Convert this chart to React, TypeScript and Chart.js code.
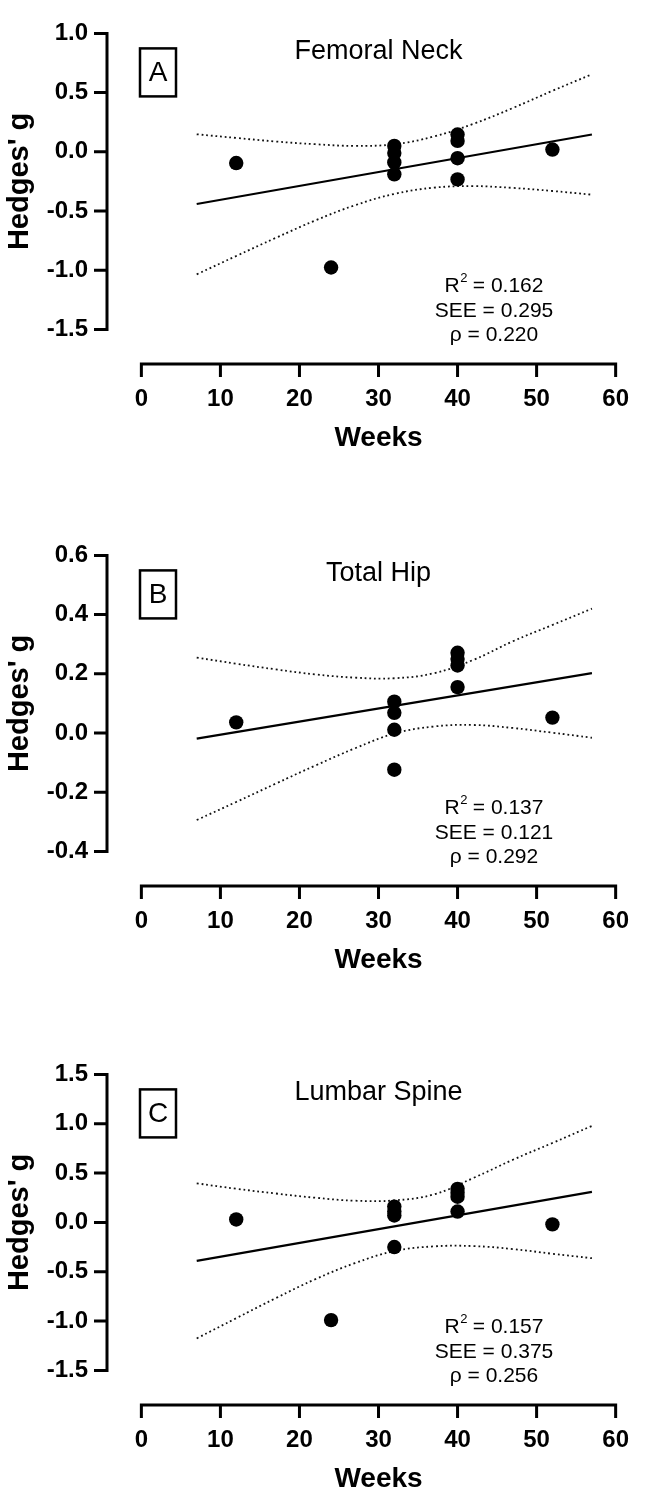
import React, { useEffect, useRef } from "react";
import { Chart, registerables } from "chart.js";

Chart.register(...registerables);

// ---------- data ----------
const weekTicks = [0, 10, 20, 30, 40, 50, 60];
const bandWeeks = [7, 12, 17, 22, 27, 32, 37, 42, 47, 52, 57];
const fitWeeks = [7, 57];

// Panel A – Femoral Neck
const femoralWeeks = [12, 24, 32, 32, 32, 32, 40, 40, 40, 40, 52];
const femoralG = [-0.095, -0.977, 0.05, -0.01, -0.09, -0.19, 0.146, 0.092, -0.054, -0.233, 0.019];
const femoralFit = [-0.441, 0.146];
const femoralUpper = [0.148, 0.117, 0.087, 0.064, 0.05, 0.064, 0.129, 0.236, 0.37, 0.515, 0.655];
const femoralLower = [-1.035, -0.88, -0.727, -0.58, -0.452, -0.356, -0.303, -0.29, -0.305, -0.331, -0.362];
const femoralTicks = [1.0, 0.5, 0.0, -0.5, -1.0, -1.5];
const femoralStats = ["0.162", "0.295", "0.220"];

// Panel B – Total Hip
const hipWeeks = [12, 32, 32, 32, 32, 40, 40, 40, 40, 52];
const hipG = [0.036, 0.106, 0.068, 0.011, -0.124, 0.271, 0.25, 0.228, 0.155, 0.052];
const hipFit = [-0.019, 0.202];
const hipUpper = [0.255, 0.234, 0.215, 0.198, 0.187, 0.185, 0.202, 0.247, 0.31, 0.365, 0.42];
const hipLower = [-0.294, -0.233, -0.171, -0.11, -0.052, -0.002, 0.022, 0.027, 0.017, 0.001, -0.016];
const hipTicks = [0.6, 0.4, 0.2, 0.0, -0.2, -0.4];
const hipStats = ["0.137", "0.121", "0.292"];

// Panel C – Lumbar Spine
const spineWeeks = [12, 24, 32, 32, 32, 32, 40, 40, 40, 40, 52];
const spineG = [0.03, -0.99, 0.16, 0.11, 0.07, -0.25, 0.34, 0.3, 0.26, 0.11, -0.02];
const spineFit = [-0.39, 0.31];
const spineUpper = [0.396, 0.341, 0.293, 0.25, 0.22, 0.223, 0.284, 0.45, 0.635, 0.805, 0.978];
const spineLower = [-1.176, -0.971, -0.768, -0.576, -0.413, -0.291, -0.243, -0.24, -0.27, -0.318, -0.363];
const spineTicks = [1.5, 1.0, 0.5, 0.0, -0.5, -1.0, -1.5];
const spineStats = ["0.157", "0.375", "0.256"];

// ---------- styling ----------
const FONT = "'Liberation Sans', Arial, Helvetica, sans-serif";
const CANVAS_W = 650;
const CANVAS_H = 464;

type Panel = {
  letter: string;
  title: string;
  weeks: number[];
  g: number[];
  fit: number[];
  upper: number[];
  lower: number[];
  yTicks: number[];
  stats: string[];
  top: number;
};

const panels: Panel[] = [
  { letter: "A", title: "Femoral Neck", weeks: femoralWeeks, g: femoralG, fit: femoralFit, upper: femoralUpper, lower: femoralLower, yTicks: femoralTicks, stats: femoralStats, top: 0 },
  { letter: "B", title: "Total Hip", weeks: hipWeeks, g: hipG, fit: hipFit, upper: hipUpper, lower: hipLower, yTicks: hipTicks, stats: hipStats, top: 522 },
  { letter: "C", title: "Lumbar Spine", weeks: spineWeeks, g: spineG, fit: spineFit, upper: spineUpper, lower: spineLower, yTicks: spineTicks, stats: spineStats, top: 1041 },
];

function pairs(xs: number[], ys: number[]) {
  return xs.map((x, i) => ({ x, y: ys[i] }));
}

function makeOverlay(p: Panel) {
  return {
    id: "overlay" + p.letter,
    afterDraw(chart: any) {
      const ctx = chart.ctx as CanvasRenderingContext2D;
      const xs = chart.scales.x;
      const ys = chart.scales.y;
      const area = chart.chartArea;
      const x0 = xs.getPixelForValue(weekTicks[0]);
      const x1 = xs.getPixelForValue(weekTicks[weekTicks.length - 1]);
      const yTop = ys.getPixelForValue(p.yTicks[0]);
      const yBot = ys.getPixelForValue(p.yTicks[p.yTicks.length - 1]);
      const ax = area.left;
      const axY = area.bottom;
      const cx = (x0 + x1) / 2;

      ctx.save();
      // axes
      ctx.strokeStyle = "#000";
      ctx.lineWidth = 3;
      ctx.lineCap = "butt";
      ctx.beginPath();
      ctx.moveTo(ax, yTop - 1.5);
      ctx.lineTo(ax, yBot + 1.5);
      for (const t of p.yTicks) {
        const y = ys.getPixelForValue(t);
        ctx.moveTo(ax + 1.5, y);
        ctx.lineTo(ax - 13, y);
      }
      ctx.moveTo(x0 - 1.5, axY);
      ctx.lineTo(x1 + 1.5, axY);
      for (const t of weekTicks) {
        const x = xs.getPixelForValue(t);
        ctx.moveTo(x, axY - 1.5);
        ctx.lineTo(x, axY + 13);
      }
      ctx.stroke();

      ctx.fillStyle = "#000";
      // panel title
      ctx.font = `27px ${FONT}`;
      ctx.textAlign = "center";
      ctx.textBaseline = "middle";
      ctx.fillText(p.title, cx, area.top + 18);

      // letter box
      const bx = area.left + 33;
      const by = area.top + 15;
      ctx.lineWidth = 2.5;
      ctx.strokeRect(bx, by, 36, 48);
      ctx.font = `28px ${FONT}`;
      ctx.fillText(p.letter, bx + 18, by + 25);

      // stats
      const sx = area.left + 387;
      const rows = [area.top + 253, area.top + 278, area.top + 302];
      ctx.textAlign = "left";
      const big = `21px ${FONT}`;
      const small = `13px ${FONT}`;
      ctx.font = big;
      const wR = ctx.measureText("R").width;
      const rest = " = " + p.stats[0];
      const wRest = ctx.measureText(rest).width;
      ctx.font = small;
      const w2 = ctx.measureText("2").width;
      const start = sx - (wR + w2 + wRest) / 2;
      ctx.font = big;
      ctx.fillText("R", start, rows[0]);
      ctx.font = small;
      ctx.fillText("2", start + wR + 0.5, rows[0] - 8);
      ctx.font = big;
      ctx.fillText(rest, start + wR + w2, rows[0]);
      ctx.textAlign = "center";
      ctx.fillText("SEE = " + p.stats[1], sx, rows[1]);
      ctx.fillText("\u03c1 = " + p.stats[2], sx, rows[2]);

      // axis titles
      ctx.font = `bold 28px ${FONT}`;
      ctx.textAlign = "center";
      ctx.textBaseline = "middle";
      ctx.fillText("Weeks", cx, axY + 74);

      ctx.save();
      ctx.font = `bold 29px ${FONT}`;
      ctx.translate(28, (yTop + yBot) / 2);
      ctx.rotate(-Math.PI / 2);
      ctx.textBaseline = "alphabetic";
      ctx.fillText("Hedges' g", 0, 0);
      ctx.restore();

      ctx.restore();
    },
  };
}

function PanelChart({ p }: { p: Panel }) {
  const ref = useRef<HTMLCanvasElement | null>(null);
  useEffect(() => {
    if (!ref.current) return;
    const first = p.yTicks[0];
    const last = p.yTicks[p.yTicks.length - 1];
    const yMin = last - (first - last) * (36 / 308);
    const xMin = -2100 / 483;
    const band = {
      showLine: true,
      borderColor: "#111",
      borderWidth: 1.8,
      borderDash: [1.8, 2.9],
      pointRadius: 0,
      tension: 0.4,
      fill: false,
    };
    const chart = new Chart(ref.current, {
      type: "scatter",
      data: {
        datasets: [
          {
            label: "studies",
            data: pairs(p.weeks, p.g),
            backgroundColor: "#000",
            borderColor: "#000",
            pointRadius: 7.2,
            pointBorderWidth: 0,
            showLine: false,
          },
          {
            label: "fit",
            data: pairs(fitWeeks, p.fit),
            showLine: true,
            borderColor: "#000",
            borderWidth: 2.2,
            pointRadius: 0,
            fill: false,
          },
          { label: "upper", data: pairs(bandWeeks, p.upper), ...band },
          { label: "lower", data: pairs(bandWeeks, p.lower), ...band },
        ],
      } as any,
      options: {
        responsive: false,
        animation: false,
        devicePixelRatio: 1,
        layout: { padding: { top: 20, right: 25, left: 0, bottom: 0 } },
        plugins: { legend: { display: false }, tooltip: { enabled: false } },
        scales: {
          x: {
            type: "linear",
            min: xMin,
            max: 60,
            grid: { display: false, drawTicks: false },
            border: { display: false },
            ticks: {
              padding: 21,
              color: "#000",
              font: { family: FONT, size: 24, weight: "bold" },
              callback: (v: any) => String(v),
            },
            afterBuildTicks: (scale: any) => {
              scale.ticks = weekTicks.map((v) => ({ value: v }));
            },
            afterFit: (scale: any) => {
              scale.height = 100;
            },
          },
          y: {
            type: "linear",
            min: yMin,
            max: first,
            grid: { display: false, drawTicks: false },
            border: { display: false },
            ticks: {
              padding: 19,
              color: "#000",
              font: { family: FONT, size: 24, weight: "bold" },
              callback: (v: any) => Number(v).toFixed(1),
            },
            afterBuildTicks: (scale: any) => {
              scale.ticks = p.yTicks.map((v) => ({ value: v }));
            },
            afterFit: (scale: any) => {
              scale.width = 107;
            },
          },
        },
      } as any,
      plugins: [makeOverlay(p)],
    });
    return () => chart.destroy();
  }, [p]);
  return (
    <canvas
      ref={ref}
      width={CANVAS_W}
      height={CANVAS_H}
      style={{ position: "absolute", left: 0, top: p.top, width: CANVAS_W, height: CANVAS_H, display: "block" }}
    />
  );
}

export default function App() {
  return (
    <div style={{ position: "absolute", left: 0, top: 0, width: 650, height: 1508, background: "#fff", overflow: "hidden" }}>
      {panels.map((p) => (
        <PanelChart key={p.letter} p={p} />
      ))}
    </div>
  );
}
